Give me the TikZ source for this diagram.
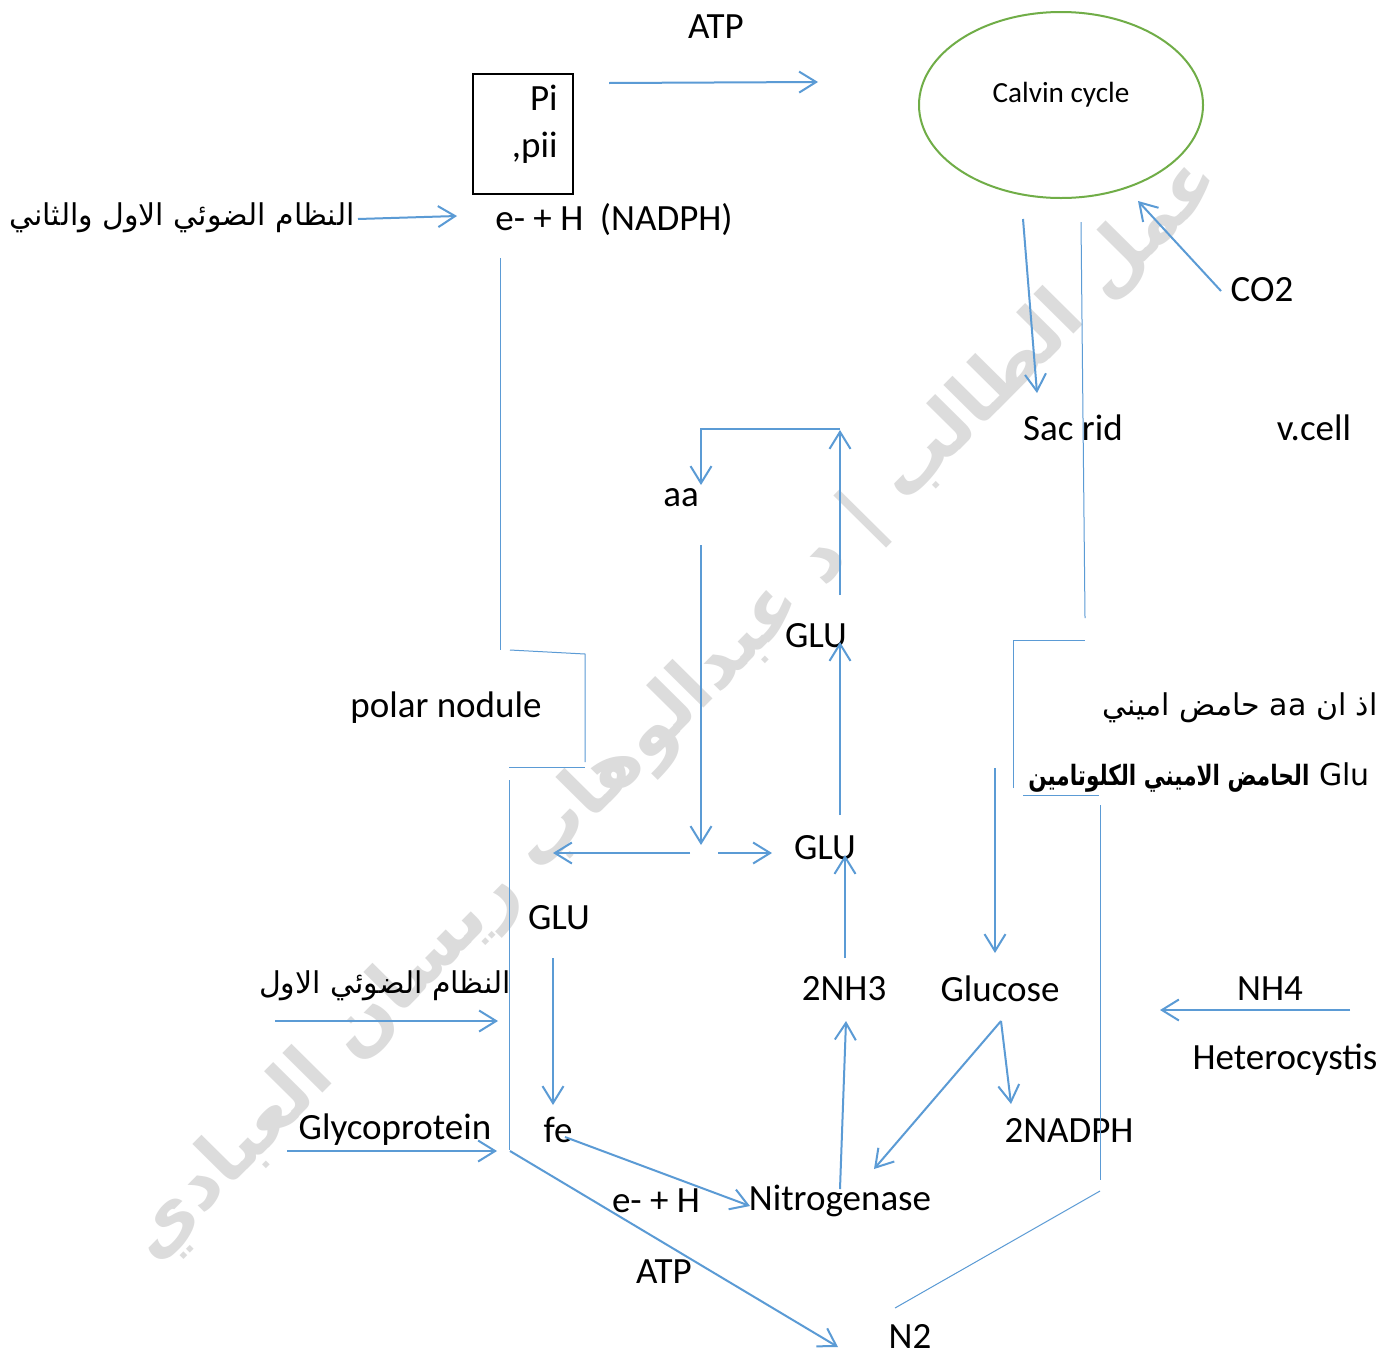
\documentclass[tikz,border=0pt]{standalone}
\usepackage{fontspec}
\usepackage{graphicx}
\setmainfont{Carlito}
\newfontfamily\arabicfont[Script=Arabic]{DejaVu Sans}
\TeXXeTstate=1
\usetikzlibrary{arrows.meta,shapes.geometric}
\definecolor{lblue}{HTML}{5B9BD5}
\definecolor{lgreen}{HTML}{70AD47}
\definecolor{wmgray}{HTML}{DCDCDC}
\begin{document}
\begin{tikzpicture}[x=0.5pt,y=-0.5pt,
  lbl/.style={font=\fontsize{18.5}{20}\selectfont, inner sep=0pt},
  arlbl/.style={font=\arabicfont\fontsize{15}{18}\selectfont, inner sep=0pt},
  flow/.style={draw=lblue, line width=1pt, -{Straight Barb[length=8.5pt,width=10.5pt]}},
  rule/.style={draw=lblue, line width=0.5pt},
]
\useasboundingbox[fill=white] (0,0) rectangle (1385,1355);

% watermark
\node[text=wmgray, rotate=45.3, inner sep=0pt] (wm) at (675,710)
  {\resizebox{760pt}{!}{\arabicfont\bfseries\beginR عمل الطالب | د عبدالوهاب ريسان العبادي\endR}};

% labels
\node[lbl] (atpTop) at (716,27) {ATP};
\node[draw=black, line width=1pt, minimum width=50pt, minimum height=60pt, inner sep=0pt] (box) at (523,134) {};
\node[lbl, anchor=east] (pi) at (558,98) {Pi};
\node[lbl, anchor=east] (pii) at (558,148) {,pii};
\node[ellipse, draw=lgreen, line width=1pt, minimum width=142pt, minimum height=93pt, inner sep=0pt] (calvinE) at (1061,105) {};
\node[lbl, font=\fontsize{14.6}{16}\selectfont] (calvin) at (1061,95) {Calvin cycle};
\node[arlbl] (ar1) at (182,218) {\beginR النظام الضوئي الاول والثاني\endR};
\node[lbl] (nadph) at (614,220) {e- + H\hspace{0.45em}(NADPH)};
\node[lbl] (co2) at (1262,290) {CO2};
\node[lbl] (sac) at (1073,428) {Sac rid};
\node[lbl] (vcell) at (1314,428) {v.cell};
\node[lbl] (aa) at (681,498) {aa};
\node[lbl] (glu1) at (816,636) {GLU};
\node[lbl] (polar) at (446,708) {polar nodule};
\node[arlbl, anchor=east] (ar3) at (1378,708) {\beginR اذ ان \beginL aa\endL{} حامض اميني\endR};
\node[arlbl, anchor=east] (ar4) at (1370,778) {\scalebox{0.77}[1]{\fontsize{14}{16}\selectfont\bfseries\beginR الحامض الاميني الكلوتامين\endR}\ Glu};
\node[lbl] (glu2) at (825,848) {GLU};
\node[lbl] (glu3) at (559,918) {GLU};
\node[arlbl] (ar2) at (385,986) {\beginR النظام الضوئي الاول\endR};
\node[lbl] (nh3) at (844,989) {2NH3};
\node[lbl] (glucose) at (1000,989) {Glucose};
\node[lbl] (nh4) at (1270,989) {NH4};
\node[lbl] (hetero) at (1285,1060) {Heterocystis};
\node[lbl] (glyco) at (395,1130) {Glycoprotein};
\node[lbl] (fe) at (558,1130) {fe};
\node[lbl] (nadph2) at (1069,1130) {2NADPH};
\node[lbl] (eh) at (656,1201) {e- + H};
\node[lbl] (nitro) at (840,1201) {Nitrogenase};
\node[lbl] (atp2) at (664,1272) {ATP};
\node[lbl] (n2) at (910,1336) {N2};

% coordinates
\coordinate (a1s) at (609,83);   \coordinate (a1e) at (818,82);
\coordinate (a2s) at (358,219);  \coordinate (a2e) at (457,216);
\coordinate (l1a) at (500,258);  \coordinate (l1b) at (500,650);
\coordinate (l2a) at (510,650);  \coordinate (l2b) at (585,654); \coordinate (l2c) at (585,762);
\coordinate (l3a) at (509,767);  \coordinate (l3b) at (585,767);
\coordinate (l4a) at (509,780);  \coordinate (l4b) at (509,1150);
\coordinate (d1s) at (510,1151); \coordinate (d1e) at (838,1347);
\coordinate (l5a) at (895,1308); \coordinate (l5b) at (1100,1191);
\coordinate (l6a) at (1100,805); \coordinate (l6b) at (1100,1180);
\coordinate (l7a) at (1023,795); \coordinate (l7b) at (1099,795);
\coordinate (l8a) at (1013,788); \coordinate (l8b) at (1013,640); \coordinate (l8c) at (1085,640);
\coordinate (l9a) at (1081,222); \coordinate (l9b) at (1085,618);
\coordinate (s1s) at (1023,219); \coordinate (s1e) at (1037,393);
\coordinate (c1s) at (1221,291); \coordinate (c1e) at (1138,201);
\coordinate (lp1) at (840,595);  \coordinate (lp2) at (840,430);
\coordinate (lp3) at (840,429);  \coordinate (lp4) at (701,429); \coordinate (lp5) at (701,485);
\coordinate (aas) at (701,545);  \coordinate (aae) at (701,845);
\coordinate (g1s) at (840,815);  \coordinate (g1e) at (840,642);
\coordinate (h1s) at (690,853);  \coordinate (h1e) at (553,853);
\coordinate (h2s) at (718,853);  \coordinate (h2e) at (772,853);
\coordinate (n3s) at (845,958);  \coordinate (n3e) at (845,855);
\coordinate (g3s) at (553,958);  \coordinate (g3e) at (553,1105);
\coordinate (p1s) at (275,1021); \coordinate (p1e) at (498,1021);
\coordinate (gps) at (287,1151); \coordinate (gpe) at (497,1151);
\coordinate (fes) at (565,1137); \coordinate (fee) at (750,1206);
\coordinate (nis) at (840,1189); \coordinate (nie) at (846,1021);
\coordinate (gls) at (1001,1021); \coordinate (gle1) at (874,1169); \coordinate (gle2) at (1011,1104);
\coordinate (gus) at (995,768);  \coordinate (gue) at (995,953);
\coordinate (nhs) at (1350,1010); \coordinate (nhe) at (1160,1010);

% thin rules
\draw[rule] (l1a) -- (l1b);
\draw[rule] (l2a) -- (l2b) -- (l2c);
\draw[rule] (l3a) -- (l3b);
\draw[rule] (l4a) -- (l4b);
\draw[rule] (l5a) -- (l5b);
\draw[rule] (l6a) -- (l6b);
\draw[rule] (l7a) -- (l7b);
\draw[rule] (l8a) -- (l8b) -- (l8c);
\draw[rule] (l9a) -- (l9b);

% arrows
\draw[flow] (a1s) -- (a1e);
\draw[flow] (a2s) -- (a2e);
\draw[flow] (d1s) -- (d1e);
\draw[flow] (s1s) -- (s1e);
\draw[flow] (c1s) -- (c1e);
\draw[flow] (lp1) -- (lp2);
\draw[flow] (lp3) -- (lp4) -- (lp5);
\draw[flow] (aas) -- (aae);
\draw[flow] (g1s) -- (g1e);
\draw[flow] (h1s) -- (h1e);
\draw[flow] (h2s) -- (h2e);
\draw[flow] (n3s) -- (n3e);
\draw[flow] (g3s) -- (g3e);
\draw[flow] (p1s) -- (p1e);
\draw[flow] (gps) -- (gpe);
\draw[flow] (fes) -- (fee);
\draw[flow] (nis) -- (nie);
\draw[flow] (gls) -- (gle1);
\draw[flow] (gls) -- (gle2);
\draw[flow] (gus) -- (gue);
\draw[flow] (nhs) -- (nhe);
\end{tikzpicture}
\end{document}
